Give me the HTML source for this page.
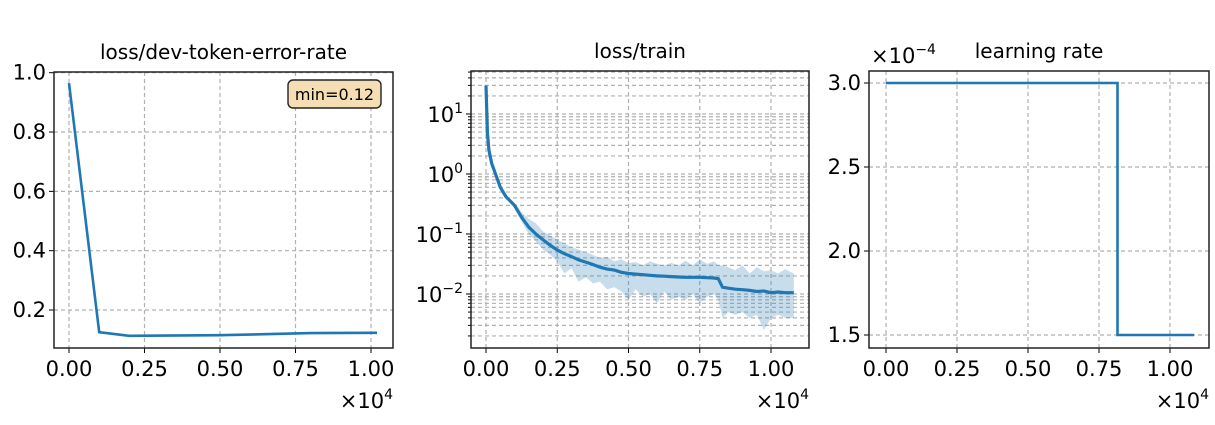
<!DOCTYPE html>
<html><head><meta charset="utf-8"><style>
html,body{margin:0;padding:0;background:#fff;}
svg text{font-family:"DejaVu Sans","Liberation Sans",sans-serif;fill:#000;}
</style></head><body>
<svg id="fig" width="1215" height="420" viewBox="0 0 1215 420" xmlns="http://www.w3.org/2000/svg"></svg>
<script>
// ---- Panel 1 data: dev token error rate
const devSteps = [0, 1000, 2000, 5000, 8000, 10200];
const devValues = [0.965, 0.125, 0.113, 0.115, 0.122, 0.123];
const devTicksY = [0.2, 0.4, 0.6, 0.8, 1.0];
const devTickLabelsY = ["0.2", "0.4", "0.6", "0.8", "1.0"];
const xTicks = [0, 2500, 5000, 7500, 10000];
const xTickLabels = ["0.00", "0.25", "0.50", "0.75", "1.00"];
const devMinLabel = "min=0.12";

// ---- Panel 2 data: training loss (log scale)
const trainSteps = [0,50,100,200,300,500,700,1000,1250,1500,1750,2000,2250,2500,2750,3000,3250,3500,3750,4000,4250,4500,4750,5000,5250,5500,5750,6000,6250,6500,6750,7000,7250,7500,7750,8000,8150,8300,8500,8750,9000,9250,9500,9750,10000,10250,10500,10800];
const trainMean = [30,5,2.5,1.5,1.1,0.6,0.42,0.3,0.19,0.13,0.1,0.08,0.065,0.054,0.047,0.042,0.037,0.034,0.031,0.028,0.026,0.025,0.023,0.022,0.0215,0.021,0.0205,0.02,0.0198,0.0195,0.0192,0.019,0.019,0.019,0.0187,0.0185,0.018,0.013,0.0125,0.012,0.0118,0.0115,0.011,0.0112,0.0105,0.0108,0.0105,0.0105];
const trainUpper = [31,5.3,2.6,1.6,1.15,0.63,0.45,0.33,0.23,0.18,0.15,0.11,0.095,0.08,0.07,0.06,0.055,0.05,0.045,0.04,0.042,0.035,0.038,0.033,0.034,0.03,0.035,0.032,0.03,0.033,0.03,0.036,0.03,0.038,0.032,0.035,0.03,0.03,0.028,0.025,0.03,0.022,0.028,0.024,0.025,0.022,0.026,0.022];
const trainLower = [29,4.7,2.4,1.4,1.05,0.57,0.4,0.27,0.16,0.1,0.075,0.055,0.045,0.035,0.022,0.027,0.016,0.019,0.015,0.016,0.012,0.013,0.011,0.008,0.012,0.009,0.01,0.007,0.011,0.008,0.009,0.008,0.01,0.007,0.009,0.01,0.008,0.004,0.005,0.0045,0.005,0.004,0.0045,0.0025,0.004,0.0045,0.004,0.004];
const trainDecades = [-2, -1, 0, 1];

// ---- Panel 3 data: learning rate (×1e-4)
const lrSteps = [0, 8150, 8150, 10850];
const lrValues = [3.0, 3.0, 1.5, 1.5];
const lrTicksY = [1.5, 2.0, 2.5, 3.0];
const lrTickLabelsY = ["1.5", "2.0", "2.5", "3.0"];

const NS = "http://www.w3.org/2000/svg";
const svg = document.getElementById('fig');
const FS = 21, TFS = 20, SUP = 14;
function mk(tag, attrs, parent) {
  const e = document.createElementNS(NS, tag);
  for (const k in attrs) e.setAttribute(k, attrs[k]);
  (parent || svg).appendChild(e);
  return e;
}
const BLUE = "#1f77b4", GRID = "#b0b0b0";

function panel(box, sx, sy, title, name) {
  const g = mk('g', {});
  
  
  const t = mk('text', {x: (box.l + box.r) / 2, y: box.t - 13, 'text-anchor': 'middle', 'font-size': TFS}, g);
  t.textContent = title;
  
  
  xTicks.forEach((v, i) => {
    const x = sx(v);
    const gl = mk('line', {x1: x, x2: x, y1: box.t, y2: box.b, stroke: GRID, 'stroke-dasharray': '4,3', 'stroke-width': 1.2}, g);
    
    
    mk('line', {x1: x, x2: x, y1: box.b, y2: box.b + 5, stroke: '#000', 'stroke-width': 1}, g);
    const tl = mk('text', {x: x, y: box.b + 28, 'text-anchor': 'middle', 'font-size': FS}, g);
    tl.textContent = xTickLabels[i];
    
    
  });
  const off = mk('text', {x: box.r, y: box.b + 60, 'text-anchor': 'end', 'font-size': FS}, g);
  off.innerHTML = '×10<tspan dy="-9" font-size="' + SUP + '">4</tspan>';
  
  
  return g;
}
function frame(box, g) {
  const r = mk('rect', {x: box.l, y: box.t, width: box.r - box.l, height: box.b - box.t, fill: 'none', stroke: '#222', 'stroke-width': 1.5}, g);
  
  
}
function linePath(xs, ys, sx, sy) {
  return xs.map((v, i) => (i ? 'L' : 'M') + sx(v).toFixed(1) + ',' + sy(ys[i]).toFixed(1)).join('');
}

// ===== Panel 1
(function () {
  const box = {l: 54, r: 393, t: 72, b: 348};
  const sx = v => 69 + v * (371 - 69) / 10000;
  const sy = v => 72.7 + (1.0 - v) * (310 - 72.7) / 0.8;
  const g = panel(box, sx, sy, 'loss/dev-token-error-rate', 'dev-error-panel');
  devTicksY.forEach((v, i) => {
    const y = sy(v);
    const gl = mk('line', {x1: box.l, x2: box.r, y1: y, y2: y, stroke: GRID, 'stroke-dasharray': '4,3', 'stroke-width': 1.2}, g);
    
    
    mk('line', {x1: box.l - 5, x2: box.l, y1: y, y2: y, stroke: '#000'}, g);
    const tl = mk('text', {x: box.l - 8, y: y + 7, 'text-anchor': 'end', 'font-size': FS}, g);
    tl.textContent = devTickLabelsY[i];
    
    
  });
  const p = mk('path', {d: linePath(devSteps, devValues, sx, sy), fill: 'none', stroke: BLUE, 'stroke-width': 2.6}, g);
  
  
  const bx = mk('rect', {x: 288, y: 80, width: 93, height: 28, rx: 5, fill: '#f5deb3', stroke: '#222', 'stroke-width': 1.4}, g);
  
  
  const bt = mk('text', {x: 334.5, y: 100, 'text-anchor': 'middle', 'font-size': 16}, g);
  bt.textContent = devMinLabel;
  
  
  frame(box, g);
})();

// ===== Panel 2
(function () {
  const box = {l: 471, r: 809, t: 71, b: 348};
  const sx = v => 486 + v * (771 - 486) / 10000;
  const sy = v => 114 + (1 - Math.log10(v)) * 60;
  const g = panel(box, sx, sy, 'loss/train', 'train-loss-panel');
  for (let d = -3; d <= 1; d++) {
    for (let m = 1; m <= 9; m++) {
      const v = m * Math.pow(10, d);
      const y = sy(v);
      if (y < box.t || y > box.b) continue;
      const gl = mk('line', {x1: box.l, x2: box.r, y1: y, y2: y, stroke: GRID, 'stroke-dasharray': '4,3', 'stroke-width': 1.2}, g);
      
      
      mk('line', {x1: box.l - (m === 1 ? 5 : 3), x2: box.l, y1: y, y2: y, stroke: '#000'}, g);
    }
  }
  trainDecades.forEach(d => {
    const y = sy(Math.pow(10, d));
    const tl = mk('text', {x: box.l - 8, y: y + 8, 'text-anchor': 'end', 'font-size': FS}, g);
    tl.innerHTML = '10<tspan dy="-9" font-size="' + SUP + '">' + (d < 0 ? '−' + (-d) : d) + '</tspan>';
    
    
  });
  let d = trainSteps.map((v, i) => (i ? 'L' : 'M') + sx(v).toFixed(1) + ',' + sy(trainUpper[i]).toFixed(1)).join('');
  for (let i = trainSteps.length - 1; i >= 0; i--) d += 'L' + sx(trainSteps[i]).toFixed(1) + ',' + sy(trainLower[i]).toFixed(1);
  const band = mk('path', {d: d + 'Z', fill: BLUE, 'fill-opacity': 0.25, stroke: 'none'}, g);
  
  
  const p = mk('path', {d: linePath(trainSteps, trainMean, sx, sy), fill: 'none', stroke: BLUE, 'stroke-width': 3.2}, g);
  
  
  frame(box, g);
})();

// ===== Panel 3
(function () {
  const box = {l: 869, r: 1209, t: 71, b: 348};
  const sx = v => 886 + v * (1170 - 886) / 10000;
  const sy = v => 83 + (3.0 - v) * (335 - 83) / 1.5;
  const g = panel(box, sx, sy, 'learning rate', 'learning-rate-panel');
  lrTicksY.forEach((v, i) => {
    const y = sy(v);
    const gl = mk('line', {x1: box.l, x2: box.r, y1: y, y2: y, stroke: GRID, 'stroke-dasharray': '4,3', 'stroke-width': 1.2}, g);
    
    
    mk('line', {x1: box.l - 5, x2: box.l, y1: y, y2: y, stroke: '#000'}, g);
    const tl = mk('text', {x: box.l - 8, y: y + 7, 'text-anchor': 'end', 'font-size': FS}, g);
    tl.textContent = lrTickLabelsY[i];
    
    
  });
  const off = mk('text', {x: 871, y: 63, 'font-size': FS}, g);
  off.innerHTML = '×10<tspan dy="-9" font-size="' + SUP + '">−4</tspan>';
  
  
  const p = mk('path', {d: linePath(lrSteps, lrValues, sx, sy), fill: 'none', stroke: BLUE, 'stroke-width': 2.6}, g);
  
  
  frame(box, g);
})();
</script>
</body></html>
